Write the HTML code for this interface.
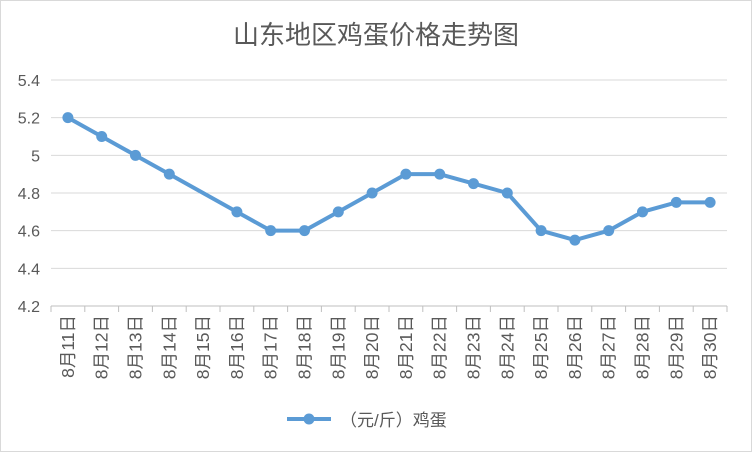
<!DOCTYPE html>
<html><head><meta charset="utf-8"><style>
body{margin:0;background:#fff}
svg{display:block;font-family:"Liberation Sans","Noto Sans CJK SC",sans-serif}
</style></head><body>
<svg width="752" height="452">
<rect x="0.5" y="0.5" width="751" height="451" fill="#fff" stroke="#d9d9d9"/>
<text x="376" y="44" text-anchor="middle" font-size="26" fill="#595959" font-family="'Noto Sans CJK SC',sans-serif">山东地区鸡蛋价格走势图</text>
<g id="grid"></g><g id="xaxis"></g><g id="series"></g>
<g>
<line x1="287" y1="419" x2="331" y2="419" stroke="#5b9bd5" stroke-width="4"/>
<circle cx="309" cy="419" r="5.5" fill="#5b9bd5"/>
<text x="340" y="426" font-size="17" fill="#595959">（元/斤）鸡蛋</text>
</g>
</svg>
<script>
const categories=["8月11日","8月12日","8月13日","8月14日","8月15日","8月16日","8月17日","8月18日","8月19日","8月20日","8月21日","8月22日","8月23日","8月24日","8月25日","8月26日","8月27日","8月28日","8月29日","8月30日"];
const values=[5.2,5.1,5.0,4.9,null,4.7,4.6,4.6,4.7,4.8,4.9,4.9,4.85,4.8,4.6,4.55,4.6,4.7,4.75,4.75];
const yTicks=[4.2,4.4,4.6,4.8,5,5.2,5.4];
const yTickLabels=["4.2","4.4","4.6","4.8","5","5.2","5.4"];
const NS="http://www.w3.org/2000/svg";
const L=51,R=727,T=80,B=306,yMin=4.2,yMax=5.4;
const bw=(R-L)/categories.length;
const x=i=>L+bw*(i+0.5);
const y=v=>B-(v-yMin)/(yMax-yMin)*(B-T);
function mk(tag,attrs,parent){const e=document.createElementNS(NS,tag);for(const k in attrs)e.setAttribute(k,attrs[k]);parent.appendChild(e);return e;}
const grid=document.getElementById('grid');
yTicks.forEach((t,i)=>{
 const g=mk('line',{x1:L,x2:R,y1:y(t),y2:y(t),stroke:i===0?'#bfbfbf':'#d9d9d9','stroke-width':1},grid);
 
 
 const tx=mk('text',{x:40,y:y(t)+6,'text-anchor':'end','font-size':16,fill:'#595959'},grid);
 tx.textContent=yTickLabels[i];
 
 
});
const xa=document.getElementById('xaxis');
for(let i=0;i<=categories.length;i++){
 const tk=mk('line',{x1:L+bw*i,x2:L+bw*i,y1:B,y2:B+6,stroke:'#bfbfbf'},xa);
 
 
}
categories.forEach((c,i)=>{
 const t=mk('text',{x:0,y:0,'font-size':17.5,fill:'#595959','text-anchor':'end',transform:`translate(${x(i)+6},315) rotate(-90)`},xa);
 t.textContent=c;
 
 
});
const s=document.getElementById('series');
let seg=[];
values.forEach((v,i)=>{if(v!=null)seg.push([x(i),y(v)]);});
const p=mk('polyline',{points:seg.map(q=>q.join(',')).join(' '),fill:'none',stroke:'#5b9bd5','stroke-width':4,'stroke-linejoin':'round','stroke-linecap':'round'},s);


values.forEach((v,i)=>{if(v==null)return;
 const c=mk('circle',{cx:x(i),cy:y(v),r:5.5,fill:'#5b9bd5'},s);
 
 
});
</script>
</body></html>
